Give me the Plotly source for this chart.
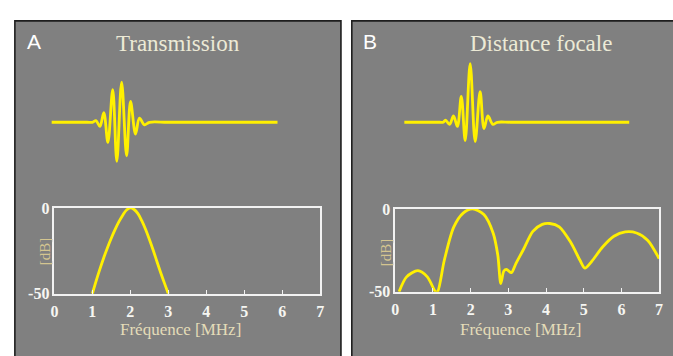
import plotly.graph_objects as go

# ---- data -------------------------------------------------------------
# Emitted pulse (panel A): time [µs] and normalised amplitude
t_trans = [0, 1.0, 2.0, 2.3, 2.5, 2.72, 2.94, 3.17, 3.44, 3.67, 3.94, 4.22, 4.44,
           4.72, 4.94, 5.22, 5.5, 6.5, 8.0, 10.0, 12.7]
a_trans = [0, 0, 0, 0, 0.04, -0.10, 0.23, -0.48, 0.78, -0.93, 0.96, -0.80, 0.50,
           -0.28, 0.10, -0.06, 0, 0, 0, 0, 0]

# Pulse at the focal distance (panel B)
t_focal = [0, 1.0, 2.0, 2.2, 2.33, 2.56, 2.78, 3.0, 3.22, 3.44, 3.72, 4.0, 4.28,
           4.5, 4.72, 5.0, 5.25, 6.0, 8.0, 10.0, 12.7]
a_focal = [0, 0, 0, 0, 0.05, -0.05, 0.15, -0.10, 0.62, -0.44, 1.40, -0.46, 0.73,
           -0.15, 0.15, -0.05, 0, 0, 0, 0, 0]

# Spectra [MHz] -> [dB]
f_trans = [1.0, 1.1, 1.2, 1.3, 1.4, 1.5, 1.6, 1.7, 1.8, 1.9, 2.0, 2.1, 2.2, 2.3,
           2.4, 2.5, 2.6, 2.7, 2.8, 2.9, 3.0]
db_trans = [-50, -42.5, -35.5, -29, -23, -17.5, -12.5, -8, -4.2, -1.2, 0, -0.9,
            -3.3, -7.4, -12.4, -18.2, -24.5, -31.2, -37.8, -44, -50]

f_focal = [0.1, 0.3, 0.6, 0.85, 1.07, 1.12, 1.3, 1.55, 1.8, 2.05, 2.35, 2.6, 2.72,
           2.8, 2.88, 2.95, 3.08, 3.2, 3.4, 3.65, 3.9, 4.1, 4.35, 4.65, 4.9, 5.03,
           5.2, 5.5, 5.8, 6.1, 6.4, 6.7, 7.0]
db_focal = [-50, -41, -37.3, -41, -50, -50, -31, -11, -2.5, 0, -3.4, -14.8, -28,
            -45, -37.5, -36.5, -38.5, -33, -24.5, -13.5, -9.3, -8.8, -10.8, -20,
            -31, -35.7, -32, -23, -16.5, -13.9, -14.5, -19, -30]

freq_ticks = [0, 1, 2, 3, 4, 5, 6, 7]
db_ticks = [0, -50]
db_ticktext = ["0", "-50"]

# ---- layout helpers ---------------------------------------------------
W, H = 673, 356


def px_x(p):
    return p / W


def px_y(p):
    return 1 - p / H


YELLOW = "#fff000"
PANEL = "#808080"
SERIF = "Liberation Serif, Times New Roman, serif"

fig = go.Figure()

fig.add_trace(go.Scatter(x=t_trans, y=a_trans, mode="lines",
                         line=dict(color=YELLOW, width=2.8, shape="spline", smoothing=1),
                         xaxis="x", yaxis="y", hoverinfo="skip"))
fig.add_trace(go.Scatter(x=f_trans, y=db_trans, mode="lines",
                         line=dict(color=YELLOW, width=2.8, shape="spline", smoothing=1),
                         xaxis="x2", yaxis="y2", hoverinfo="skip"))
fig.add_trace(go.Scatter(x=t_focal, y=a_focal, mode="lines",
                         line=dict(color=YELLOW, width=2.8, shape="spline", smoothing=1),
                         xaxis="x3", yaxis="y3", hoverinfo="skip"))
fig.add_trace(go.Scatter(x=f_focal, y=db_focal, mode="lines",
                         line=dict(color=YELLOW, width=2.8, shape="spline", smoothing=0.8),
                         xaxis="x4", yaxis="y4", hoverinfo="skip"))

hidden = dict(visible=False, fixedrange=True)
wave_y = dict(hidden, range=[-2, 2], domain=[px_y(208), px_y(32)])

tick_font = dict(family=SERIF, size=16, color="#f6f6f2", weight="bold")
spec_x = dict(range=[0, 7], tickvals=freq_ticks, showline=True, mirror=True,
              linecolor="#f2f2f2", linewidth=1.6, ticks="inside", ticklen=4,
              tickcolor="#f2f2f2", tickwidth=1.2, showgrid=False, zeroline=False,
              tickfont=tick_font, ticklabelstandoff=2, fixedrange=True)
spec_y = dict(range=[-50, 0], tickvals=db_ticks, ticktext=db_ticktext, showline=True,
              mirror=True, linecolor="#f2f2f2", linewidth=1.6, ticks="", showgrid=False,
              zeroline=False, tickfont=tick_font, ticklabelstandoff=0, fixedrange=True)

fig.update_layout(
    width=W, height=H, margin=dict(l=0, r=0, t=0, b=0),
    paper_bgcolor="white", plot_bgcolor="rgba(0,0,0,0)", showlegend=False,
    xaxis=dict(hidden, range=[0, 12.7], domain=[px_x(48), px_x(277)], anchor="y"),
    yaxis=dict(wave_y, anchor="x"),
    xaxis2=dict(spec_x, domain=[px_x(51), px_x(320)], anchor="y2"),
    yaxis2=dict(spec_y, domain=[px_y(300), px_y(210)], anchor="x2"),
    xaxis3=dict(hidden, range=[0, 12.7], domain=[px_x(405), px_x(633)], anchor="y3"),
    yaxis3=dict(wave_y, anchor="x3"),
    xaxis4=dict(spec_x, domain=[px_x(396), px_x(663)], anchor="y4"),
    yaxis4=dict(spec_y, domain=[px_y(298), px_y(211)], anchor="x4"),
)

# grey panels
for x0, x1 in [(11, 341), (352, 680)]:
    fig.add_shape(type="rect", xref="paper", yref="paper", layer="below",
                  x0=px_x(x0), x1=px_x(x1), y0=-0.05, y1=px_y(13.5),
                  fillcolor=PANEL, line=dict(color="#1e1e1e", width=1.6))


def label(text, x, y, size, color, family=SERIF, angle=0):
    fig.add_annotation(text=text, xref="paper", yref="paper", x=px_x(x), y=px_y(y),
                       xanchor="center", yanchor="middle", showarrow=False,
                       textangle=angle, font=dict(family=family, size=size, color=color))


label("A", 30, 35, 21, "#ffffff", family="Liberation Sans, Arial, sans-serif")
label("B", 370, 35, 21, "#ffffff", family="Liberation Sans, Arial, sans-serif")
label("Transmission", 176, 37, 23, "#ecead6")
label("Distance focale", 543, 37, 23, "#ecead6")
label("Fréquence [MHz]", 179, 338, 17, "#e4dcb8")
label("Fréquence [MHz]", 523, 338, 17, "#e4dcb8")
label("[dB]", 41, 256, 15, "#d4c590", angle=-90)
label("[dB]", 386, 256, 15, "#d4c590", angle=-90)

fig.write_html("out.html")
